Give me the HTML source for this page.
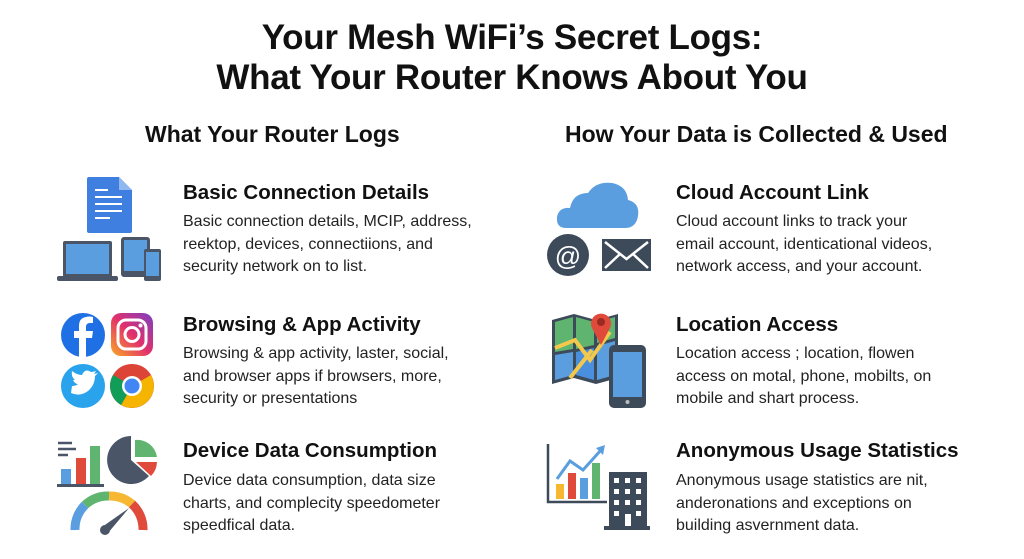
<!DOCTYPE html>
<html><head><meta charset="utf-8"><style>
body{margin:0;width:1024px;height:559px;background:#fff;position:relative;overflow:hidden;font-family:"Liberation Sans",sans-serif;color:#111}
.t{position:absolute;left:0;width:1024px;text-align:center;font-weight:bold;font-size:35px;letter-spacing:-0.3px}
.s{position:absolute;font-weight:bold;font-size:23px}
.h{position:absolute;font-weight:bold;font-size:20.5px}
.b{position:absolute;font-size:16px;line-height:22.5px;color:#222}
svg{position:absolute;left:0;top:0}
</style></head><body>
<div class="t" style="top:18px">Your Mesh WiFi’s Secret Logs:</div>
<div class="t" style="top:58px">What Your Router Knows About You</div>
<div class="s" style="left:145px;top:121px">What Your Router Logs</div>
<div class="s" style="left:565px;top:121px">How Your Data is Collected &amp; Used</div>

<div class="h" style="left:183px;top:181px">Basic Connection Details</div>
<div class="b" style="left:183px;top:211px">Basic connection details, MCIP, address,<br>reektop, devices, connectiions, and<br>security network on to list.</div>
<div class="h" style="left:183px;top:313px">Browsing &amp; App Activity</div>
<div class="b" style="left:183px;top:343px">Browsing &amp; app activity, laster, social,<br>and browser apps if browsers, more,<br>security or presentations</div>
<div class="h" style="left:183px;top:439px">Device Data Consumption</div>
<div class="b" style="left:183px;top:470px">Device data consumption, data size<br>charts, and complecity speedometer<br>speedfical data.</div>

<div class="h" style="left:676px;top:181px">Cloud Account Link</div>
<div class="b" style="left:676px;top:211px">Cloud account links to track your<br>email account, identicational videos,<br>network access, and your account.</div>
<div class="h" style="left:676px;top:313px">Location Access</div>
<div class="b" style="left:676px;top:343px">Location access ; location, flowen<br>access on motal, phone, mobilts, on<br>mobile and shart process.</div>
<div class="h" style="left:676px;top:439px">Anonymous Usage Statistics</div>
<div class="b" style="left:676px;top:470px">Anonymous usage statistics are nit,<br>anderonations and exceptions on<br>building asvernment data.</div>

<svg width="1024" height="559">
<path d="M89 177 H119 L132 190 V231 Q132 233 130 233 H89 Q87 233 87 231 V179 Q87 177 89 177Z" fill="#3f7fe0"/>
<path d="M119 177 V190 H132Z" fill="#8fb7f0"/>
<g stroke="#fff" stroke-width="2"><line x1="95" y1="190" x2="108" y2="190"/><line x1="95" y1="197" x2="122" y2="197"/><line x1="95" y1="204" x2="122" y2="204"/><line x1="95" y1="211" x2="122" y2="211"/><line x1="95" y1="218" x2="110" y2="218"/></g>
<rect x="63" y="241" width="49" height="36" rx="2" fill="#4a5568"/><rect x="66" y="244" width="43" height="30" fill="#5b9ee0"/>
<rect x="57" y="276" width="61" height="5" rx="2" fill="#4a5568"/>
<rect x="121" y="237" width="29" height="40" rx="3" fill="#4a5568"/><rect x="124" y="240" width="23" height="31" fill="#5b9ee0"/>
<rect x="144" y="249" width="17" height="32" rx="2" fill="#4a5568"/><rect x="146" y="252" width="13" height="24" fill="#5b9ee0"/>
<circle cx="83" cy="335" r="22" fill="#1f6fe5"/>
<path d="M86 357 V338 H92 L93 331 H86 V327 Q86 323 90 323 H93 V317 Q89 316 86 317 Q79 318 79 326 V331 H74 V338 H79 V357Z" fill="#fff"/>
<defs><linearGradient id="ig" x1="0" y1="1" x2="1" y2="0"><stop offset="0" stop-color="#f9a825"/><stop offset=".5" stop-color="#e1306c"/><stop offset="1" stop-color="#7b3fc4"/></linearGradient></defs>
<rect x="111" y="313" width="42" height="43" rx="10" fill="url(#ig)"/>
<rect x="118" y="320" width="28" height="29" rx="8" fill="none" stroke="#fff" stroke-width="3"/>
<circle cx="132" cy="334.5" r="7" fill="none" stroke="#fff" stroke-width="3"/><circle cx="140.5" cy="325.5" r="2" fill="#fff"/>
<circle cx="83" cy="386" r="22" fill="#29a3ec"/>
<path d="M71 393 Q80 397 88 391 Q95 385 95 376 L98 373 L94 374 L96 371 Q92 372 91 372 Q85 368 82 375 Q77 375 72 371 Q71 377 75 380 L73 380 Q75 384 78 384 Q76 386 72 386Z" fill="#fff"/>
<circle cx="132" cy="386" r="22" fill="#db4437"/>
<path d="M132 386 L151 375 A22 22 0 0 1 121 405Z" fill="#f4b400"/>
<path d="M132 386 L121 405 A22 22 0 0 1 113 375Z" fill="#0f9d58"/>
<circle cx="132" cy="386" r="10" fill="#fff"/><circle cx="132" cy="386" r="7.5" fill="#4285f4"/>
<g stroke="#4a5568" stroke-width="2.5"><line x1="58" y1="443" x2="72" y2="443"/><line x1="58" y1="449" x2="76" y2="449"/><line x1="58" y1="455" x2="68" y2="455"/></g>
<rect x="61" y="469" width="10" height="15" fill="#5b9ee0"/><rect x="76" y="458" width="10" height="26" fill="#e04a3b"/><rect x="90" y="446" width="10" height="38" fill="#5fb46f"/>
<rect x="57" y="484" width="47" height="3" fill="#4a5568"/>
<path d="M131 460 L131 436 A24 24 0 1 0 149 476Z" fill="#4a5568"/>
<path d="M135 457 L135 440 A20 20 0 0 1 157 457Z" fill="#5fb46f"/>
<path d="M136 462 L157 462 A21 21 0 0 1 151 476Z" fill="#e04a3b"/>
<path d="M75 530 A34 34 0 0 1 85 505" stroke="#5b9ee0" stroke-width="9" fill="none"/>
<path d="M85 505 A34 34 0 0 1 109 496" stroke="#5fb46f" stroke-width="9" fill="none"/>
<path d="M109 496 A34 34 0 0 1 132 504" stroke="#f6b731" stroke-width="9" fill="none"/>
<path d="M132 504 A34 34 0 0 1 143 530" stroke="#e04a3b" stroke-width="9" fill="none"/>
<path d="M102 527 L129 508 L108 533Z" fill="#4a5568"/><circle cx="105" cy="530" r="5" fill="#4a5568"/>

<path d="M566 228 Q556 228 557 217 Q559 207 570 208 Q573 193 588 193 Q596 181 612 183 Q627 186 628 200 Q640 203 638 216 Q636 228 625 228Z" fill="#5b9ee0"/>
<circle cx="568" cy="255" r="21" fill="#3d4a5a"/>
<text x="568" y="265" text-anchor="middle" font-family="Liberation Sans" font-size="26" fill="#fff">@</text>
<rect x="602" y="239" width="49" height="32" fill="#3d4a5a"/>
<path d="M605 242 L626.5 259 L648 242 M605 268 L620 254 M648 268 L633 254" stroke="#fff" stroke-width="2.5" fill="none"/>
<path d="M552 320 L574 314 L596 320 L618 314 V378 L596 384 L574 378 L552 384Z" fill="#3d4a5a"/>
<path d="M555 322 L573 317 V349 L555 352Z" fill="#5fb46f"/><path d="M576 317 L594 322 V345 L576 349Z" fill="#5fb46f"/><path d="M597 322 L615 317 V338 L597 343Z" fill="#5fb46f"/>
<path d="M555 355 L573 352 V375 L555 380Z" fill="#5b9ee0"/><path d="M576 352 L594 348 V380 L576 375Z" fill="#4a8fdd"/><path d="M597 346 L615 341 V375 L597 380Z" fill="#5b9ee0"/>
<path d="M555 348 L575 340 L590 360 L610 332 M570 378 L592 350" stroke="#f2c94c" stroke-width="4" fill="none"/>
<path d="M601 345 L592 328 A10 10 0 1 1 610 328Z" fill="#e04a3b"/><circle cx="601" cy="322" r="4" fill="#9b2a22"/>
<rect x="609" y="345" width="37" height="63" rx="5" fill="#3d4a5a"/><rect x="613" y="352" width="29" height="45" fill="#5b9ee0"/><circle cx="627.5" cy="402" r="2" fill="#bbb"/>
<path d="M548 444 V502 H607" stroke="#3d4a5a" stroke-width="2.5" fill="none"/>
<rect x="556" y="484" width="8" height="15" fill="#f6b731"/><rect x="568" y="473" width="8" height="26" fill="#e04a3b"/><rect x="580" y="478" width="8" height="21" fill="#5b9ee0"/><rect x="592" y="463" width="8" height="36" fill="#5fb46f"/>
<path d="M557 479 L570 461 L583 470 L601 450" stroke="#5b9ee0" stroke-width="3" fill="none"/><path d="M596 448 L605 445 L603 455Z" fill="#5b9ee0"/>
<rect x="609" y="472" width="38" height="56" fill="#3d4a5a"/><rect x="604" y="526" width="46" height="4" fill="#3d4a5a"/>
<g fill="#fff"><rect x="614" y="478" width="5" height="5"/><rect x="625" y="478" width="5" height="5"/><rect x="636" y="478" width="5" height="5"/><rect x="614" y="489" width="5" height="5"/><rect x="625" y="489" width="5" height="5"/><rect x="636" y="489" width="5" height="5"/><rect x="614" y="500" width="5" height="5"/><rect x="625" y="500" width="5" height="5"/><rect x="636" y="500" width="5" height="5"/><rect x="614" y="511" width="5" height="5"/><rect x="636" y="511" width="5" height="5"/><rect x="625" y="514" width="6" height="12"/></g>
</svg>
</body></html>
